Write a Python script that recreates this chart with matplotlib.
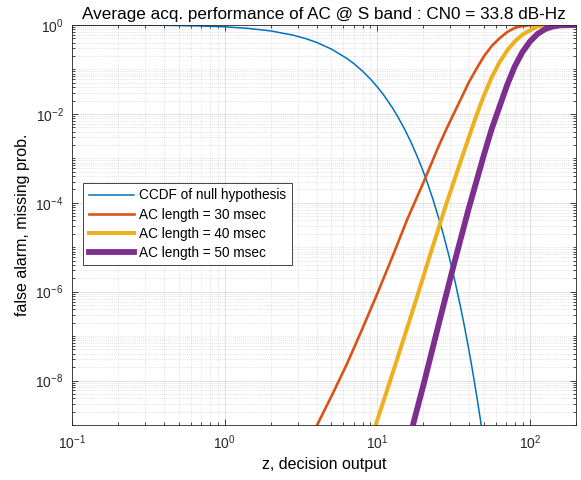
import matplotlib
matplotlib.use("Agg")
import matplotlib.pyplot as plt
from matplotlib.ticker import LogLocator, NullFormatter

plt.rcParams["font.family"] = ["Liberation Sans", "DejaVu Sans"]
plt.rcParams["mathtext.default"] = "regular"

# CCDF of null hypothesis
z_null = [0.1, 0.2, 0.4, 0.7, 1.0, 1.4, 2.0, 2.8, 3.4, 4.0, 5.0, 6.3, 7.0, 8.0,
          9.0, 10, 11, 12.5, 13.5, 15, 16.5, 18, 19.5, 21, 23, 25, 27, 29,
          31, 33, 35, 37, 39, 41, 43, 45, 47, 50]
p_null = [0.999, 0.995, 0.983, 0.951, 0.91, 0.844, 0.736, 0.592, 0.493, 0.406,
          0.287, 0.178, 0.136, 0.0916, 0.0611, 0.0404, 0.0266, 0.014, 9.07e-3,
          4.7e-3, 2.42e-3, 1.23e-3, 6.27e-4, 3.2e-4, 1.27e-4, 5.0e-5, 1.99e-5,
          7.8e-6, 3.06e-6, 1.19e-6, 4.64e-7, 1.8e-7, 6.97e-8, 2.7e-8, 1.03e-8,
          4.0e-9, 1.52e-9, 3.6e-10]

# missing probability, AC length = 30 msec
z_30 = [4.03, 5.01, 6.31, 7.94, 10, 12.6, 15.8, 20, 25.1, 28.2, 31.6, 35.5,
        39.8, 44.7, 50.1, 56.2, 63.1, 70.8, 79.4, 89.1, 100, 126, 200]
p_30 = [1e-9, 4.47e-9, 2.34e-8, 1.41e-7, 9.12e-7, 6.31e-6, 4.47e-5, 2.82e-4,
        1.82e-3, 4.4e-3, 0.0100, 0.0228, 0.0520, 0.105, 0.202, 0.339, 0.501,
        0.692, 0.861, 0.944, 0.989, 1.0, 1.0]

# AC length = 40 msec
z_40 = [9.75, 11.2, 14.1, 17.8, 22.4, 28.2, 35.5, 39.8, 44.7, 50.1, 56.2,
        63.1, 70.8, 79.4, 89.1, 100, 112, 126, 158, 200]
p_40 = [1e-9, 4.27e-9, 4.9e-8, 6.03e-7, 7.59e-6, 9.12e-5, 9.55e-4, 3.02e-3,
        9.55e-3, 0.0269, 0.0676, 0.145, 0.266, 0.427, 0.603, 0.759, 0.933,
        0.982, 1.0, 1.0]

# AC length = 50 msec
z_50 = [17.1, 20, 25.1, 31.6, 39.8, 50.1, 56.2, 63.1, 70.8, 79.4, 89.1, 100,
        112, 126, 141, 158, 200]
p_50 = [1e-9, 7.76e-9, 1.74e-7, 3.89e-6, 7.76e-5, 1.26e-3, 4.68e-3, 0.0145,
        0.0447, 0.117, 0.245, 0.427, 0.631, 0.813, 0.923, 0.982, 1.0]

fig = plt.figure(figsize=(5.81, 4.80), dpi=100)
ax = fig.add_axes([72 / 581, 1 - 425 / 480, 504 / 581, 400 / 480])

ax.plot(z_null, p_null, color="#0072BD", lw=1.1, label="CCDF of null hypothesis")
ax.plot(z_30, p_30, color="#D95319", lw=1.9, label="AC length = 30 msec")
ax.plot(z_40, p_40, color="#EDB120", lw=2.9, label="AC length = 40 msec")
ax.plot(z_50, p_50, color="#7E2F8E", lw=4.2, label="AC length = 50 msec")

ax.set_xscale("log")
ax.set_yscale("log")
ax.set_xlim(0.1, 200)
ax.set_ylim(1e-9, 1)

ax.set_yticks([1e-8, 1e-6, 1e-4, 1e-2, 1e0])
ax.yaxis.set_minor_locator(LogLocator(base=10, subs=tuple(range(1, 10)), numticks=30))
ax.yaxis.set_minor_formatter(NullFormatter())
ax.xaxis.set_minor_locator(LogLocator(base=10, subs=tuple(range(2, 10)), numticks=30))
ax.xaxis.set_minor_formatter(NullFormatter())

ax.grid(True, which="major", color="#262626", alpha=0.15, lw=0.6)
ax.grid(True, which="minor", color="#262626", alpha=0.25, lw=0.5, linestyle=(0, (1, 2)))

for s in ax.spines.values():
    s.set_color("#262626")
    s.set_linewidth(0.6)
ax.tick_params(which="both", direction="in", top=True, right=True,
               colors="#262626", labelcolor="#262626", labelsize=10, width=0.6)
ax.tick_params(which="major", length=4, pad=6)
ax.tick_params(which="minor", length=2)

ax.set_title("Average acq. performance of AC @ S band : CN0 = 33.8 dB-Hz",
             fontsize=12.3, pad=4)
ax.set_xlabel("z, decision output", fontsize=11.5, labelpad=4)
ax.set_ylabel("false alarm, missing prob.", fontsize=11.5, labelpad=4)

leg = ax.legend(loc="upper left", bbox_to_anchor=(0.0224, 0.605), borderaxespad=0,
                fontsize=9.8, handlelength=3.3, handletextpad=0.4, labelspacing=0.38,
                fancybox=False, framealpha=1, edgecolor="#262626", borderpad=0.4)
leg.get_frame().set_linewidth(0.6)

fig.savefig("out.png", dpi=100)
